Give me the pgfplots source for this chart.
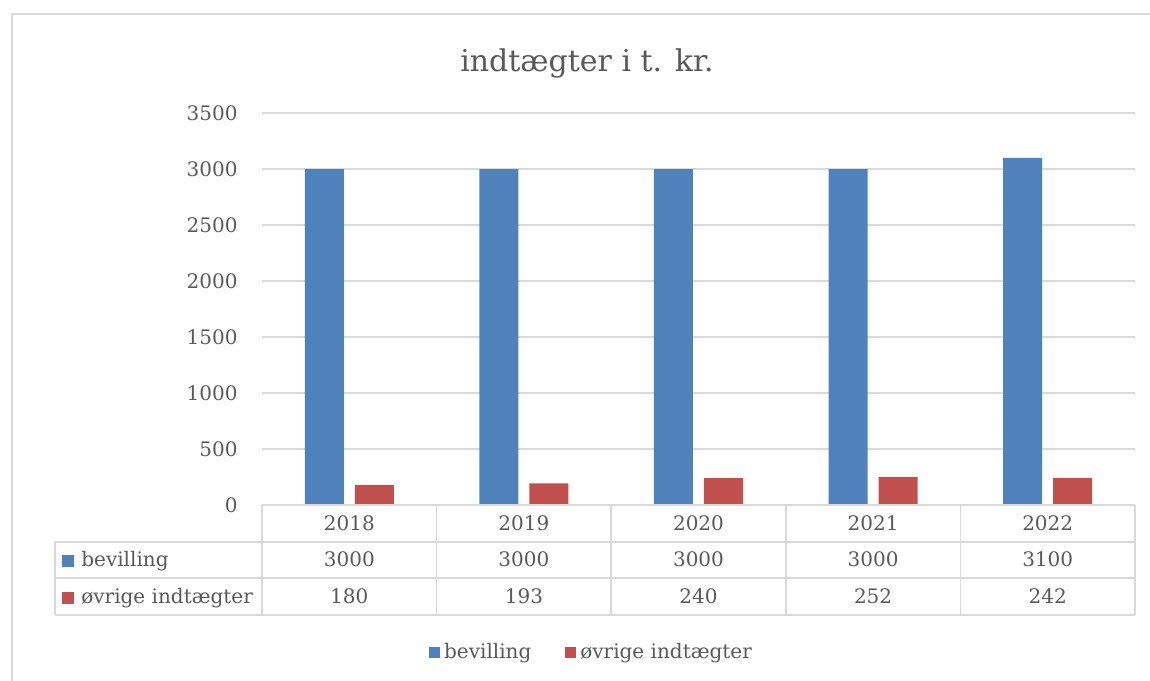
\documentclass[border=0pt]{standalone}
\usepackage{pgfplots}
\pgfplotsset{compat=1.18}
\usepackage{fontspec}
\setmainfont{DejaVu Serif}
\definecolor{barblue}{HTML}{4F81BD}
\definecolor{barred}{HTML}{C0504D}
\definecolor{txt}{HTML}{595959}
\definecolor{gridc}{HTML}{D9D9D9}
\begin{document}
\begin{tikzpicture}
\useasboundingbox (-131pt,-87.5pt) rectangle (444pt,252.5pt);
\draw[gridc, line width=0.75pt] (-125pt,-95pt) -- (-125pt,245.5pt) -- (450pt,245.5pt);
\node[anchor=base, text=txt, font=\fontsize{15pt}{18pt}\selectfont] at (162.5pt,216.5pt) {indtægter i t. kr.};
\begin{axis}[
  scale only axis, width=436.5pt, height=196pt,
  at={(0pt,0pt)}, anchor=south west,
  xmin=-0.5, xmax=4.5, ymin=0, ymax=3500,
  ytick={0,500,...,3500},
  xtick={0,1,2,3,4}, xticklabels={2018,2019,2020,2021,2022},
  ymajorgrids, grid style={gridc, line width=0.75pt},
  axis line style={draw=none},
  major tick length=0pt,
  ybar, bar width=19.5pt,
  clip=false,
  tick label style={font=\fontsize{10pt}{12pt}\selectfont, text=txt},
  /pgf/number format/assume math mode=true,
  /pgf/number format/1000 sep={},
  yticklabel style={anchor=east, inner sep=0pt, xshift=-12pt},
  xticklabel style={anchor=center, inner sep=0pt, yshift=-9pt},
  legend style={at={(0.3786,-0.375)}, anchor=center, draw=none, fill=none,
    font=\fontsize{10pt}{12pt}\selectfont, text=txt,
    /tikz/every even column/.append style={column sep=15pt}},
  legend columns=2,
]
\addplot[fill=barblue, draw=none, bar shift=-12.5pt,
  legend image code/.code={\fill[barblue] (0pt,-2.75pt) rectangle (5.5pt,2.75pt);}]
  coordinates {(0,3000) (1,3000) (2,3000) (3,3000) (4,3100)};
\addlegendentry{bevilling}
\addplot[fill=barred, draw=none, bar shift=12.5pt,
  legend image code/.code={\fill[barred] (0pt,-2.75pt) rectangle (5.5pt,2.75pt);}]
  coordinates {(0,180) (1,193) (2,240) (3,252) (4,242)};
\addlegendentry{øvrige indtægter}
\end{axis}
% data table
\begin{scope}[gridc, line width=0.75pt]
\draw (0pt,0pt) -- (436.5pt,0pt);
\draw (-103.5pt,-18.5pt) -- (436.5pt,-18.5pt);
\draw (-103.5pt,-36.5pt) -- (436.5pt,-36.5pt);
\draw (-103.5pt,-55pt) -- (436.5pt,-55pt);
\draw (-103.5pt,-18.5pt) -- (-103.5pt,-55pt);
\foreach \i in {0,1,2,3,4,5} \draw ({\i*87.3pt},0pt) -- ({\i*87.3pt},-55pt);
\end{scope}
\begin{scope}[every node/.style={font=\fontsize{10pt}{12pt}\selectfont, text=txt, inner sep=0pt}]
\node[anchor=base west] at (-100pt,-30.75pt) {\textcolor{barblue}{\rule{6pt}{6pt}}\hspace{3.5pt}bevilling};
\node[anchor=base west] at (-100pt,-49.25pt) {\textcolor{barred}{\rule{6pt}{6pt}}\hspace{3.5pt}øvrige indtægter};
\foreach \i/\a/\b in {0/3000/180, 1/3000/193, 2/3000/240, 3/3000/252, 4/3100/242} {
  \node[anchor=base] at ({(\i+0.5)*87.3pt},-30.75pt) {\a};
  \node[anchor=base] at ({(\i+0.5)*87.3pt},-49.25pt) {\b};
}
\end{scope}
\end{tikzpicture}
\end{document}
